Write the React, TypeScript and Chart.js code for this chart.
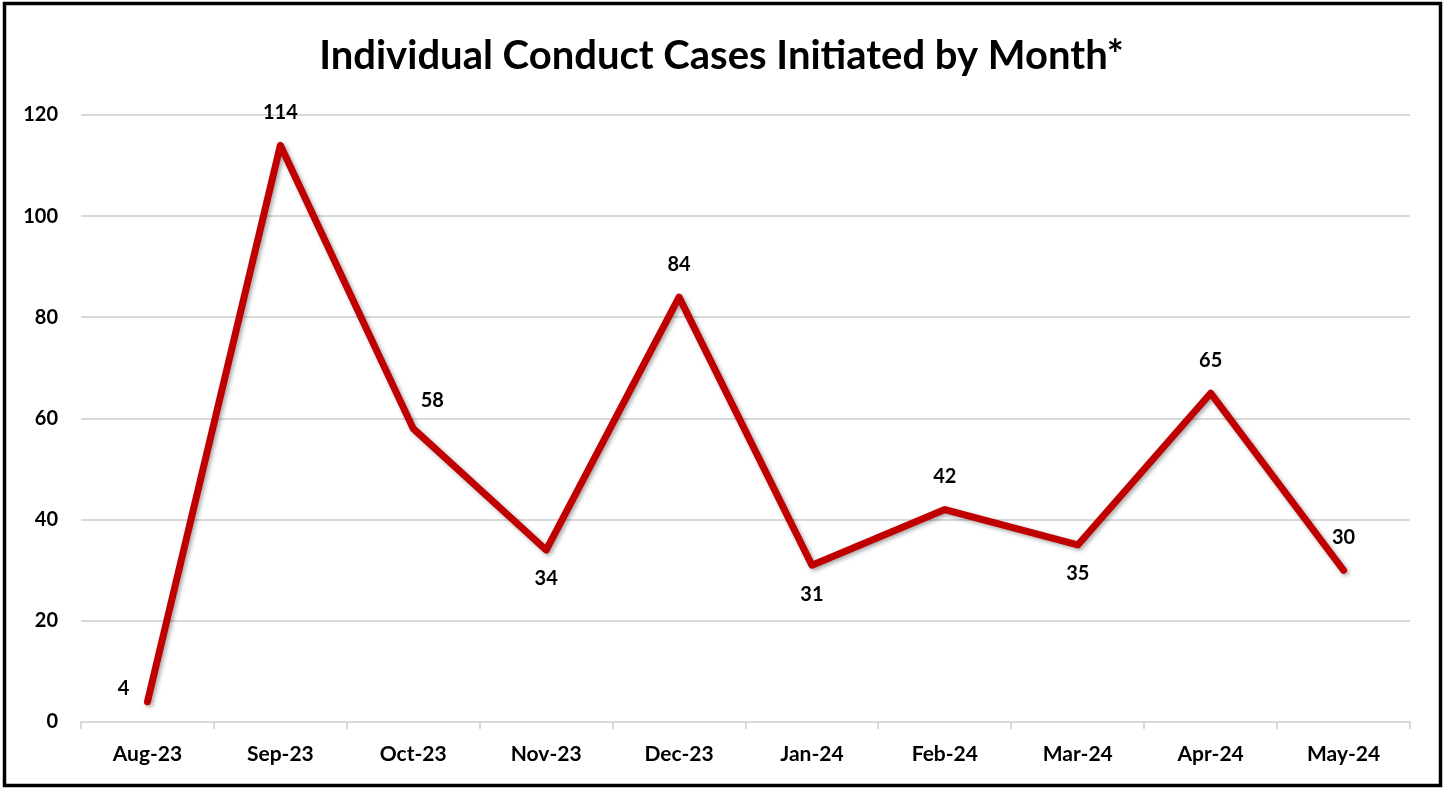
import React, { useEffect, useRef } from "react";
import { Chart, registerables } from "chart.js";

Chart.register(...registerables);

const TITLE = "Individual Conduct Cases Initiated by Month*";
const months = ["Aug-23", "Sep-23", "Oct-23", "Nov-23", "Dec-23", "Jan-24", "Feb-24", "Mar-24", "Apr-24", "May-24"];
const cases = [4, 114, 58, 34, 84, 31, 42, 35, 65, 30];
const labelPlacement = ["left", "above", "aboveRight", "below", "above", "below", "above", "below", "above", "above"];
const yTicks = { min: 0, max: 120, step: 20 };

const FONT = "Lato, 'Open Sans', sans-serif";
const RED = "#C00000";
const GRID = "#d9d9d9";

const framePlugin = {
  id: "frame",
  afterDraw(chart: any) {
    const ctx = chart.ctx;
    ctx.save();
    ctx.strokeStyle = "#000";
    ctx.lineWidth = 3.5;
    ctx.strokeRect(4.5, 3.5, chart.width - 7, chart.height - 6);
    ctx.font = `bold 40px ${FONT}`;
    ctx.fillStyle = "#000";
    ctx.textAlign = "center";
    ctx.textBaseline = "middle";
    ctx.fillText(TITLE, chart.width / 2, 56);
    ctx.restore();
  },
};

const shadowPlugin = {
  id: "lineShadow",
  beforeDatasetsDraw(chart: any) {
    const ctx = chart.ctx;
    ctx.save();
    ctx.shadowColor = "rgba(0,0,0,0.35)";
    ctx.shadowBlur = 4;
    ctx.shadowOffsetX = 2;
    ctx.shadowOffsetY = 2;
  },
  afterDatasetsDraw(chart: any) {
    chart.ctx.restore();
  },
};

const labelPlugin = {
  id: "valueLabels",
  afterDatasetsDraw(chart: any) {
    const ctx = chart.ctx;
    const meta = chart.getDatasetMeta(0);
    ctx.save();
    ctx.font = `bold 20px ${FONT}`;
    ctx.fillStyle = "#000";
    ctx.textAlign = "center";
    ctx.textBaseline = "middle";
    meta.data.forEach((pt: any, i: number) => {
      const pos = labelPlacement[i];
      let dx = 0;
      let dy = 0;
      if (pos === "above") dy = -33;
      else if (pos === "below") dy = 29;
      else if (pos === "left") { dx = -24; dy = -13; }
      else if (pos === "aboveRight") { dx = 19; dy = -28; }
      ctx.fillText(String(cases[i]), pt.x + dx, pt.y + dy);
    });
    ctx.restore();
  },
};

export default function App() {
  const ref = useRef<HTMLCanvasElement | null>(null);

  useEffect(() => {
    if (!ref.current) return;
    const chart = new Chart(ref.current, {
      type: "line",
      data: {
        labels: months,
        datasets: [
          {
            data: cases,
            borderColor: RED,
            backgroundColor: RED,
            borderWidth: 7,
            borderJoinStyle: "round",
            borderCapStyle: "round",
            pointRadius: 0,
            pointHoverRadius: 0,
            tension: 0,
          },
        ],
      },
      options: {
        animation: false,
        responsive: false,
        maintainAspectRatio: false,
        layout: { padding: { left: 0, right: 33, top: 115, bottom: 0 } },
        plugins: {
          legend: { display: false },
          tooltip: { enabled: false },
          title: { display: false },
        },
        scales: {
          x: {
            offset: true,
            grid: {
              offset: true,
              drawOnChartArea: false,
              drawTicks: true,
              tickLength: 7,
              color: GRID,
              lineWidth: 2,
            },
            border: { display: true, color: GRID, width: 2 },
            ticks: {
              color: "#000",
              font: { family: FONT, size: 21, weight: "bold" },
              padding: 13,
              maxRotation: 0,
            },
            afterFit(scale: any) {
              scale.height = 66;
            },
          },
          y: {
            min: yTicks.min,
            max: yTicks.max,
            grid: { color: GRID, lineWidth: 2, drawTicks: false },
            border: { display: false },
            ticks: {
              stepSize: yTicks.step,
              color: "#000",
              font: { family: FONT, size: 20, weight: "bold" },
              padding: 23,
            },
            afterFit(scale: any) {
              scale.width = 81;
            },
          },
        },
      },
      plugins: [shadowPlugin, labelPlugin, framePlugin],
    });
    return () => chart.destroy();
  }, []);

  return (
    <div style={{ position: "fixed", left: 0, top: 0, width: 1443, height: 788, background: "#fff" }}>
      <canvas ref={ref} width={1443} height={788} style={{ display: "block", width: 1443, height: 788 }} />
    </div>
  );
}
